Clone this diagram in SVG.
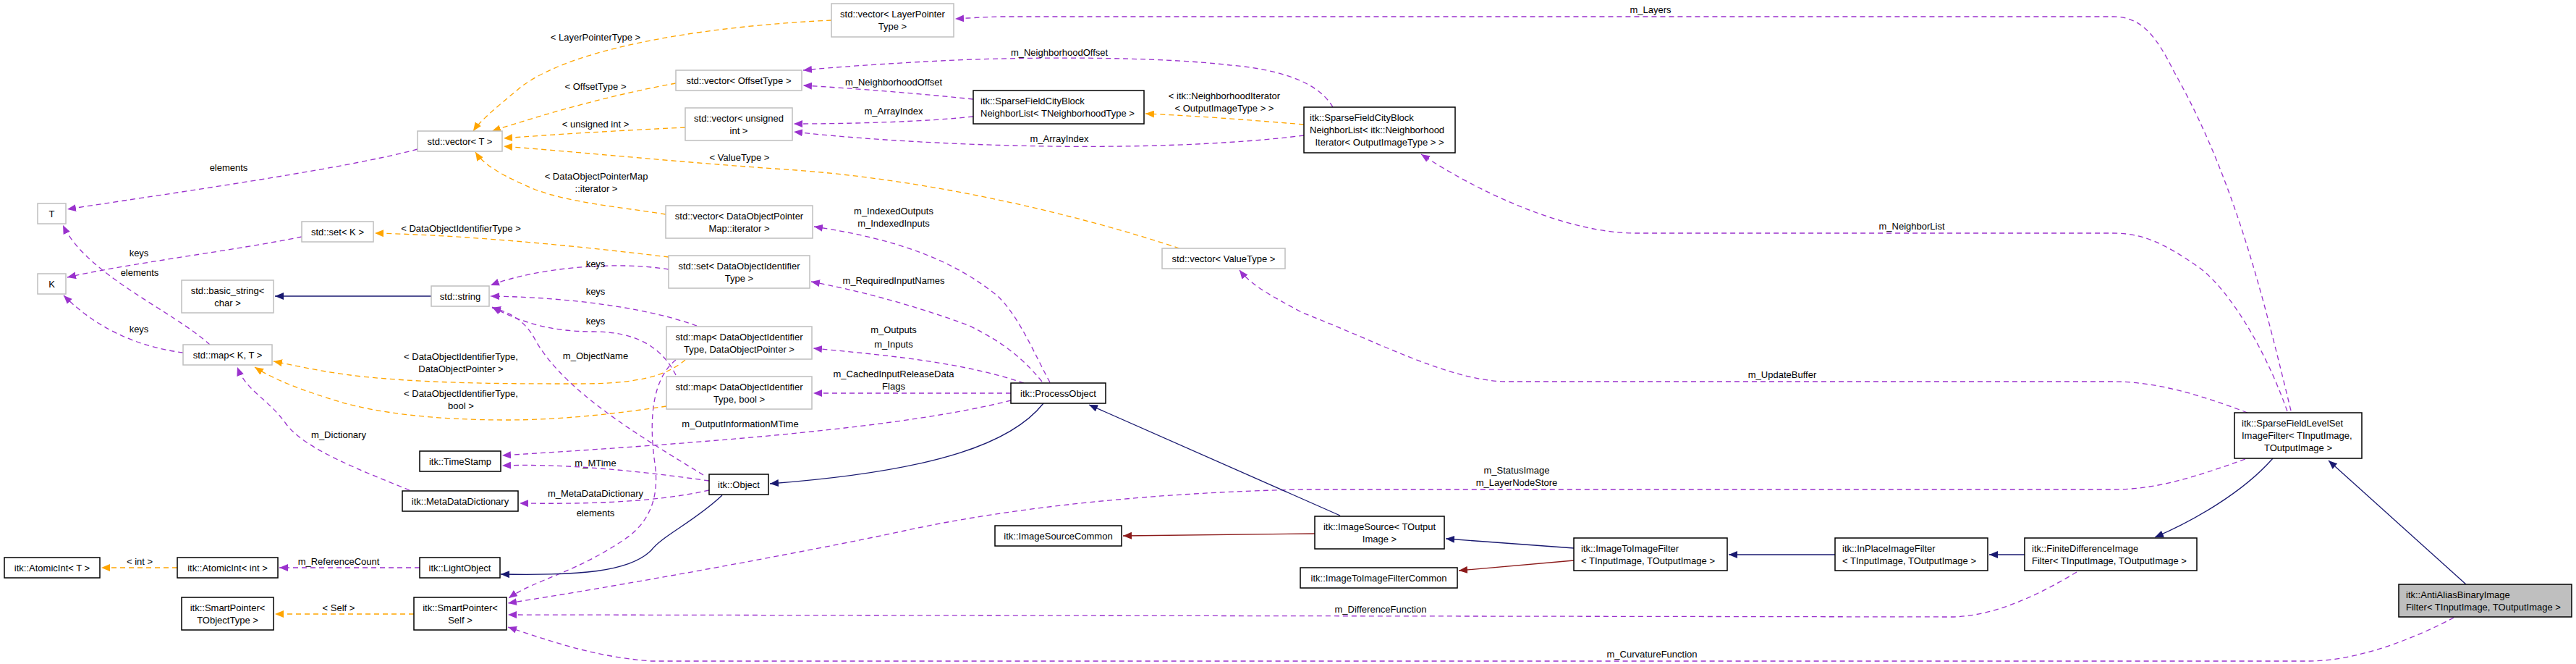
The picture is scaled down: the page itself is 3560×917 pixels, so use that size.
<svg xmlns="http://www.w3.org/2000/svg" width="3560" height="917" viewBox="0 0 3560 917">
<style>
text{font-family:"Liberation Sans",Arial,sans-serif;font-size:13px;fill:#000}
.c{text-anchor:middle}
.n rect{fill:#fff;stroke:#000;stroke-width:1.5}
.s rect{fill:#fff;stroke:#bfbfbf;stroke-width:1.5}
.p{fill:none;stroke:#9a32cd;stroke-width:1.3;stroke-dasharray:7,5;marker-end:url(#ap)}
.o{fill:none;stroke:#ffa500;stroke-width:1.3;stroke-dasharray:7,5;marker-end:url(#ao)}
.b{fill:none;stroke:#191970;stroke-width:1.3;marker-end:url(#ab)}
.r{fill:none;stroke:#8b1a1a;stroke-width:1.3;marker-end:url(#ar)}
</style>
<defs>
<marker id="ap" viewBox="0 0 12 10" refX="12" refY="5" markerWidth="12" markerHeight="10" orient="auto" markerUnits="userSpaceOnUse"><path d="M0,0L12,5L0,10z" fill="#9a32cd"/></marker>
<marker id="ao" viewBox="0 0 12 10" refX="12" refY="5" markerWidth="12" markerHeight="10" orient="auto" markerUnits="userSpaceOnUse"><path d="M0,0L12,5L0,10z" fill="#ffa500"/></marker>
<marker id="ab" viewBox="0 0 12 10" refX="12" refY="5" markerWidth="12" markerHeight="10" orient="auto" markerUnits="userSpaceOnUse"><path d="M0,0L12,5L0,10z" fill="#191970"/></marker>
<marker id="ar" viewBox="0 0 12 10" refX="12" refY="5" markerWidth="12" markerHeight="10" orient="auto" markerUnits="userSpaceOnUse"><path d="M0,0L12,5L0,10z" fill="#8b1a1a"/></marker>
</defs>
<rect width="3560" height="917" fill="#fff"/>
<g id="connectors">
<path class="p" d="M577,206 C470,235 200,272 93,289"/><text class="c" x="316" y="236">elements</text>
<path class="p" d="M417,327 C330,345 170,365 93,383"/><text class="c" x="192" y="354">keys</text>
<path class="p" d="M253,487 C200,480 140,460 88,408"/><text class="c" x="192" y="459">keys</text>
<path class="p" d="M290,476 C240,430 120,380 87,311"/><text class="c" x="193" y="381">elements</text>
<path class="p" d="M924,372 C850,360 740,370 678,394"/><text class="c" x="823" y="369">keys</text>
<path class="p" d="M963,450 C880,420 760,410 678,409"/><text class="c" x="823" y="407">keys</text>
<path class="p" d="M934,518 C915,480 880,458 820,458 C760,458 720,445 680,424"/><text class="c" x="823" y="448">keys</text>
<path class="p" d="M972,656 C880,600 780,540 740,470 C725,440 700,430 680,425"/><text class="c" x="823" y="496">m_ObjectName</text>
<path class="p" d="M566,677 C500,650 420,620 395,585 C370,550 340,540 328,507"/><text class="c" x="468" y="605">m_Dictionary</text>
<path class="p" d="M980,664 C880,650 780,640 694,643"/><text class="c" x="823" y="644">m_MTime</text>
<path class="p" d="M1397,553 C1250,590 1000,610 694,629"/><text class="c" x="1023" y="590">m_OutputInformationMTime</text>
<path class="p" d="M980,677 C900,695 800,696 718,695"/><text class="c" x="823" y="686">m_MetaDataDictionary</text>
<path class="p" d="M934,497 C905,520 895,570 905,640 C912,690 895,720 870,740 C800,790 740,800 703,826"/><text class="c" x="823" y="713">elements</text>
<path class="p" d="M580,784 L386,784"/><text class="c" x="468" y="780">m_ReferenceCount</text>
<path class="p" d="M1451,528 C1430,490 1410,440 1380,410 C1320,360 1240,330 1125,313"/><text class="c" x="1235" y="296">m_IndexedOutputs</text><text class="c" x="1235" y="313">m_IndexedInputs</text>
<path class="p" d="M1440,527 C1410,490 1380,470 1340,450 C1260,420 1180,400 1121,389"/><text class="c" x="1235" y="392">m_RequiredInputNames</text>
<path class="p" d="M1415,529 C1330,500 1220,490 1124,481"/><text class="c" x="1235" y="460">m_Outputs</text><text class="c" x="1235" y="480">m_Inputs</text>
<path class="p" d="M1397,543 L1124,543"/><text class="c" x="1235" y="521">m_CachedInputReleaseData</text><text class="c" x="1235" y="538">Flags</text>
<path class="p" d="M1345,137 C1280,130 1180,122 1110,118"/><text class="c" x="1235" y="118">m_NeighborhoodOffset</text>
<path class="p" d="M1345,161 C1280,168 1180,171 1097,171"/><text class="c" x="1235" y="158">m_ArrayIndex</text>
<path class="p" d="M1842,148 C1820,110 1760,95 1700,90 C1600,78 1420,78 1300,84 C1220,88 1150,93 1110,97"/><text class="c" x="1464" y="77">m_NeighborhoodOffset</text>
<path class="p" d="M1802,187 C1700,200 1550,205 1400,201 C1250,197 1150,188 1097,182"/><text class="c" x="1464" y="196">m_ArrayIndex</text>
<path class="p" d="M3166,567 C3130,420 3090,250 3005,100 C2980,50 2960,23 2920,23 L1380,23 C1350,24 1340,25 1320,26"/><text class="c" x="2281" y="18">m_Layers</text>
<path class="p" d="M3161,568 C3130,480 3080,400 3040,370 C2990,335 2960,322 2920,322 L2260,322 C2170,322 2050,270 1964,213"/><text class="c" x="2642" y="317">m_NeighborList</text>
<path class="p" d="M3106,570 C3040,545 2980,527 2920,527 L2080,527 C2000,525 1900,470 1800,432 C1760,410 1730,395 1713,373"/><text class="c" x="2463" y="522">m_UpdateBuffer</text>
<path class="p" d="M3103,634 C3030,660 2980,676 2920,676 L1800,676 C1600,680 1400,700 1250,733 C1100,765 850,810 702,833"/><text class="c" x="2096" y="654">m_StatusImage</text><text class="c" x="2096" y="671">m_LayerNodeStore</text>
<path class="p" d="M2870,790 C2820,820 2760,850 2700,852 L702,849"/><text class="c" x="1908" y="846">m_DifferenceFunction</text>
<path class="p" d="M3391,853 C3340,880 3260,913 3190,913 L900,913 C820,907 760,885 702,866"/><text class="c" x="2283" y="908">m_CurvatureFunction</text>
<path class="o" d="M1149,28 C1000,35 800,60 720,120 C690,145 665,165 654,181"/><text class="c" x="823" y="56">&lt; LayerPointerType &gt;</text>
<path class="o" d="M934,115 C850,130 760,155 680,181"/><text class="c" x="823" y="124">&lt; OffsetType &gt;</text>
<path class="o" d="M947,176 C860,180 760,186 696,191"/><text class="c" x="823" y="176">&lt; unsigned int &gt;</text>
<path class="o" d="M920,296 C850,285 790,280 740,262 C700,245 670,230 657,210"/><text class="c" x="824" y="248">&lt; DataObjectPointerMap</text><text class="c" x="824" y="265">::iterator &gt;</text>
<path class="o" d="M1630,343 C1500,300 1300,250 1100,235 C950,225 800,210 696,202"/><text class="c" x="1022" y="222">&lt; ValueType &gt;</text>
<path class="o" d="M924,355 C800,340 650,325 518,322"/><text class="c" x="637" y="320">&lt; DataObjectIdentifierType &gt;</text>
<path class="o" d="M947,497 C920,520 880,530 800,530 C700,530 600,530 500,520 C440,513 410,505 378,499"/><text class="c" x="637" y="497">&lt; DataObjectIdentifierType,</text><text class="c" x="637" y="514">DataObjectPointer &gt;</text>
<path class="o" d="M921,561 C860,570 780,580 700,580 C600,580 520,570 470,555 C420,540 380,525 352,507"/><text class="c" x="637" y="548">&lt; DataObjectIdentifierType,</text><text class="c" x="637" y="565">bool &gt;</text>
<path class="o" d="M1802,172 C1720,165 1650,160 1583,157"/><text class="c" x="1692" y="137">&lt; itk::NeighborhoodIterator</text><text class="c" x="1692" y="154">&lt; OutputImageType &gt; &gt;</text>
<path class="o" d="M572,848 L380,848"/><text class="c" x="468" y="844">&lt; Self &gt;</text>
<path class="o" d="M245,784 L140,784"/><text class="c" x="193" y="780">&lt; int &gt;</text>
<path class="b" d="M3408,807 L3218,636"/>
<path class="b" d="M3141,633 C3100,680 3030,720 2978,742"/>
<path class="b" d="M2798,766 L2749,766"/>
<path class="b" d="M2536,766 L2389,766"/>
<path class="b" d="M2175,757 L1998,744"/>
<path class="b" d="M1852,712 L1505,559"/>
<path class="b" d="M1442,557 C1400,610 1300,650 1064,668"/>
<path class="b" d="M998,684 C960,720 915,740 900,760 C870,790 800,795 692,793"/>
<path class="b" d="M596,409 L380,409"/>
<path class="r" d="M2175,774 L2016,788"/>
<path class="r" d="M1817,737 C1700,738 1600,739 1552,740"/>
</g>
<g id="T" class="s"><rect x="52" y="281" width="39" height="28"/><text class="c" x="71.5" y="300">T</text></g>
<g id="K" class="s"><rect x="52" y="378" width="39" height="28"/><text class="c" x="71.5" y="397">K</text></g>
<g id="vectorT" class="s"><rect x="577" y="181" width="117" height="28"/><text class="c" x="635.5" y="200">std::vector&lt; T &gt;</text></g>
<g id="setK" class="s"><rect x="417" y="306" width="99" height="28"/><text class="c" x="466.5" y="325">std::set&lt; K &gt;</text></g>
<g id="basicString" class="s"><rect x="251" y="387" width="127" height="45"/><text class="c" x="314.5" y="406">std::basic_string&lt;</text><text class="c" x="314.5" y="423">char &gt;</text></g>
<g id="string" class="s"><rect x="596" y="395" width="80" height="28"/><text class="c" x="636" y="414">std::string</text></g>
<g id="mapKT" class="s"><rect x="253" y="476" width="123" height="28"/><text class="c" x="314.5" y="495">std::map&lt; K, T &gt;</text></g>
<g id="vecLayer" class="s"><rect x="1149" y="5" width="169" height="46"/><text class="c" x="1233.5" y="24">std::vector&lt; LayerPointer</text><text class="c" x="1233.5" y="41">Type &gt;</text></g>
<g id="vecOffset" class="s"><rect x="934" y="97" width="174" height="28"/><text class="c" x="1021" y="116">std::vector&lt; OffsetType &gt;</text></g>
<g id="vecUInt" class="s"><rect x="947" y="149" width="148" height="45"/><text class="c" x="1021" y="168">std::vector&lt; unsigned</text><text class="c" x="1021" y="185">int &gt;</text></g>
<g id="vecIter" class="s"><rect x="920" y="284" width="203" height="45"/><text class="c" x="1021.5" y="303">std::vector&lt; DataObjectPointer</text><text class="c" x="1021.5" y="320">Map::iterator &gt;</text></g>
<g id="setDOI" class="s"><rect x="924" y="353" width="195" height="45"/><text class="c" x="1021.5" y="372">std::set&lt; DataObjectIdentifier</text><text class="c" x="1021.5" y="389">Type &gt;</text></g>
<g id="mapDOP" class="s"><rect x="921" y="451" width="201" height="45"/><text class="c" x="1021.5" y="470">std::map&lt; DataObjectIdentifier</text><text class="c" x="1021.5" y="487">Type, DataObjectPointer &gt;</text></g>
<g id="mapBool" class="s"><rect x="921" y="520" width="201" height="45"/><text class="c" x="1021.5" y="539">std::map&lt; DataObjectIdentifier</text><text class="c" x="1021.5" y="556">Type, bool &gt;</text></g>
<g id="vecValue" class="s"><rect x="1606" y="343" width="170" height="28"/><text class="c" x="1691" y="362">std::vector&lt; ValueType &gt;</text></g>
<g id="TimeStamp" class="n"><rect x="580" y="623" width="112" height="28"/><text class="c" x="636" y="642">itk::TimeStamp</text></g>
<g id="MetaDataDictionary" class="n"><rect x="556" y="678" width="160" height="28"/><text class="c" x="636" y="697">itk::MetaDataDictionary</text></g>
<g id="AtomicIntT" class="n"><rect x="6" y="770" width="132" height="28"/><text class="c" x="72" y="789">itk::AtomicInt&lt; T &gt;</text></g>
<g id="AtomicIntInt" class="n"><rect x="245" y="770" width="139" height="28"/><text class="c" x="314.5" y="789">itk::AtomicInt&lt; int &gt;</text></g>
<g id="LightObject" class="n"><rect x="580" y="770" width="111" height="28"/><text class="c" x="635.5" y="789">itk::LightObject</text></g>
<g id="SmartPointerT" class="n"><rect x="251" y="825" width="127" height="45"/><text class="c" x="314.5" y="844">itk::SmartPointer&lt;</text><text class="c" x="314.5" y="861">TObjectType &gt;</text></g>
<g id="SmartPointerSelf" class="n"><rect x="572" y="825" width="128" height="45"/><text class="c" x="636" y="844">itk::SmartPointer&lt;</text><text class="c" x="636" y="861">Self &gt;</text></g>
<g id="CityBlockTN" class="n"><rect x="1345" y="125" width="236" height="46"/><text x="1355" y="144">itk::SparseFieldCityBlock</text><text x="1355" y="161">NeighborList&lt; TNeighborhoodType &gt;</text></g>
<g id="CityBlockNI" class="n"><rect x="1802" y="148" width="209" height="63"/><text x="1810" y="167">itk::SparseFieldCityBlock</text><text x="1810" y="184">NeighborList&lt; itk::Neighborhood</text><text class="c" x="1906.5" y="201">Iterator&lt; OutputImageType &gt; &gt;</text></g>
<g id="ProcessObject" class="n"><rect x="1397" y="529" width="131" height="28"/><text class="c" x="1462.5" y="548">itk::ProcessObject</text></g>
<g id="Object" class="n"><rect x="980" y="655" width="82" height="28"/><text class="c" x="1021" y="674">itk::Object</text></g>
<g id="ImageSourceCommon" class="n"><rect x="1375" y="726" width="175" height="28"/><text class="c" x="1462.5" y="745">itk::ImageSourceCommon</text></g>
<g id="ImageSource" class="n"><rect x="1817" y="713" width="179" height="45"/><text class="c" x="1906.5" y="732">itk::ImageSource&lt; TOutput</text><text class="c" x="1906.5" y="749">Image &gt;</text></g>
<g id="ImageToImageFilterCommon" class="n"><rect x="1797" y="784" width="217" height="28"/><text class="c" x="1905.5" y="803">itk::ImageToImageFilterCommon</text></g>
<g id="ImageToImageFilter" class="n"><rect x="2175" y="743" width="212" height="45"/><text x="2185" y="762">itk::ImageToImageFilter</text><text x="2185" y="779">&lt; TInputImage, TOutputImage &gt;</text></g>
<g id="InPlaceImageFilter" class="n"><rect x="2536" y="743" width="211" height="45"/><text x="2546" y="762">itk::InPlaceImageFilter</text><text x="2546" y="779">&lt; TInputImage, TOutputImage &gt;</text></g>
<g id="FiniteDifferenceImageFilter" class="n"><rect x="2798" y="743" width="238" height="45"/><text x="2808" y="762">itk::FiniteDifferenceImage</text><text x="2808" y="779">Filter&lt; TInputImage, TOutputImage &gt;</text></g>
<g id="SparseFieldLevelSet" class="n"><rect x="3088" y="570" width="176" height="63"/><text x="3098" y="589">itk::SparseFieldLevelSet</text><text x="3098" y="606">ImageFilter&lt; TInputImage,</text><text class="c" x="3176" y="623">TOutputImage &gt;</text></g>
<g id="AntiAlias" class="n"><rect x="3315" y="807" width="239" height="45" style="fill:#bfbfbf"/><text x="3325" y="826">itk::AntiAliasBinaryImage</text><text x="3325" y="843">Filter&lt; TInputImage, TOutputImage &gt;</text></g>
</svg>
